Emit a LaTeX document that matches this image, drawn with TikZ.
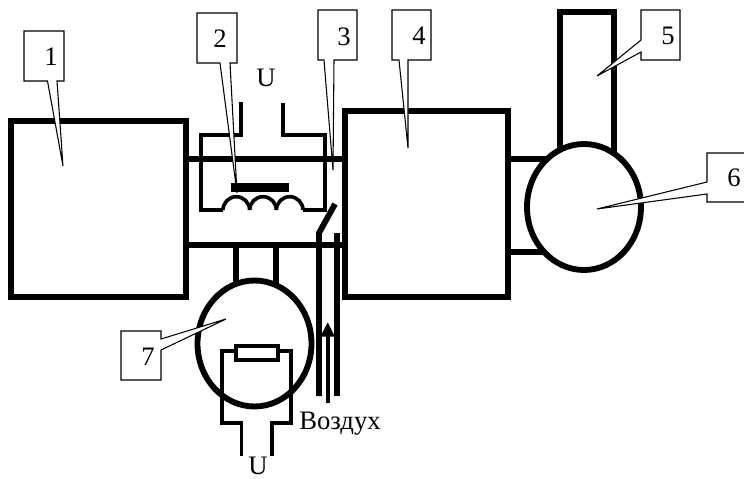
\documentclass[tikz,border=0pt]{standalone}
\usepackage{fontspec}
\setmainfont{Liberation Serif}
\usetikzlibrary{arrows.meta,positioning}

\begin{document}
\begin{tikzpicture}[x=0.75pt, y=-0.75pt, >=Stealth,
    wall/.style={line width=4.4pt, line join=miter},
    wire/.style={line width=2.7pt, line join=miter},
    tag/.style={draw=black, line width=0.8pt, fill=white, line join=miter},
    every node/.style={font=\fontsize{20pt}{22pt}\selectfont, inner sep=0pt}]
  \useasboundingbox (0,0) rectangle (744,479);

  % Main chambers
  \draw[wall] (11,121) rectangle (186,297);
  \draw[wall] (345,111) rectangle (508,297);

  % Ducts between chambers
  \draw[wall] (186,159) -- (345,159);
  \draw[wall] (186,245) -- (345,245);

  % Lower burner
  \draw[wall] (236,245) -- (236,285);
  \draw[wall] (276,245) -- (276,285);
  \draw[wall, fill=white] (254.5,343.5) ellipse [x radius=57, y radius=63];
  \draw[wire] (236,351) -- (222,351) -- (222,423) -- (241.5,423) -- (241.5,456);
  \draw[wire] (278,351) -- (291,351) -- (291,423) -- (272,423) -- (272,456);
  \draw[wire, fill=white] (236,346) rectangle (278,360);
  \node (ulow) at (258,466) {U};

  % Coil with core
  \draw[wire] (241,102) -- (241,135) -- (201,135) -- (201,210) -- (223,210);
  \draw[wire] (283,103) -- (283,135) -- (325,135) -- (325,210) -- (303,210);
  \foreach \xs in {223,249.7,276.4}
    \draw[wire] (\xs,210) arc [start angle=180, end angle=360, radius=13.3];
  \draw[line width=6.5pt] (231,187.5) -- (289,187.5);
  \node (uup) at (266,78) {U};

  % Air pipe with flap
  \draw[wall] (335,204) -- (319,233) -- (319,396);
  \draw[wall] (337,233) -- (337,396);
  \coordinate (airtail) at (327.7,403);
  \coordinate (airtip) at (327.7,322);
  \draw[-{Triangle[length=11pt, width=10pt]}, line width=3pt] (airtail) -- (airtip);
  \node (air) at (340,424) {Воздух};

  % Chimney and outlet chamber
  \draw[wall] (508,159) -- (560,159);
  \draw[wall] (508,252) -- (560,252);
  \draw[wall] (560,160) -- (560,12) -- (614,12) -- (614,160);
  \draw[wall, fill=white] (584,207) ellipse [x radius=57, y radius=63];

  % Callouts
  \draw[tag] (24,31) -- (64,31) -- (64,81) -- (57,81) -- (63,166) -- (47.5,81) -- (24,81) -- cycle;
  \node (lab1) at (51,57) {1};
  \draw[tag] (197,13) -- (237,13) -- (237,63) -- (230,63) -- (237,193) -- (220,63) -- (197,63) -- cycle;
  \node (lab2) at (220,39) {2};
  \draw[tag] (318,10) -- (357,10) -- (357,60) -- (334,60) -- (333,170) -- (324,60) -- (318,60) -- cycle;
  \node (lab3) at (344,37) {3};
  \draw[tag] (392,10) -- (431,10) -- (431,60) -- (408,60) -- (408,148) -- (399,60) -- (392,60) -- cycle;
  \node (lab4) at (419,36) {4};
  \draw[tag] (641,10) -- (680,10) -- (680,60) -- (641,60) -- (641,52) -- (597,76) -- (641,40) -- cycle;
  \node (lab5) at (668,36) {5};
  \draw[tag] (707,153) -- (746,153) -- (746,202) -- (707,202) -- (707,194) -- (597,209) -- (707,182) -- cycle;
  \node (lab6) at (734,178) {6};
  \draw[tag] (121,331) -- (161,331) -- (161,339) -- (226,319) -- (161,350) -- (161,380) -- (121,380) -- cycle;
  \node (lab7) at (148,357) {7};
\end{tikzpicture}
\end{document}
